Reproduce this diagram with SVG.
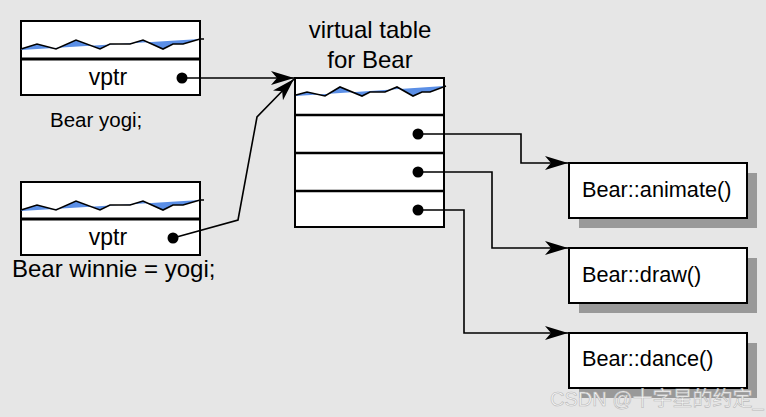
<svg xmlns="http://www.w3.org/2000/svg" width="766" height="417" viewBox="0 0 766 417">
<defs>
<marker id="arr" markerUnits="userSpaceOnUse" markerWidth="24" markerHeight="15" refX="23" refY="7" orient="auto">
<path d="M0,0 L23,7 L0,14 L6,7 Z" fill="#000"/>
</marker>
</defs>
<style>
.box{fill:#fff;stroke:#000;stroke-width:2}
.div{stroke:#000;stroke-width:3}
.div2{stroke:#000;stroke-width:2.5}
.wave{fill:#5b8fe6;stroke:none}
.wl{fill:none;stroke:#000;stroke-width:1.6}
.t{font-family:"Liberation Sans",Arial,sans-serif;fill:#000}
.dot{fill:#000}
.sh{fill:#999}
.con{fill:none;stroke:#000;stroke-width:1.6}
</style>
<rect x="0" y="0" width="766" height="417" fill="#e6e6e6"/>

<g id="yogi">
<rect class="box" x="21" y="21" width="179" height="74"/>
<polygon class="wave" points="21,49 37,44 56,49 76,40 100,49 110,44 130,44 143,40 163,49 173,44 183,44 200,39 200,39 21,50"/>
<polyline class="wl" points="21,49 37,44 56,49 76,40 100,49 110,44 130,44 143,40 163,49 173,44 183,44 200,39 204,39"/>
<line class="div" x1="21" y1="59" x2="200" y2="59"/>
<text class="t" x="108" y="85" font-size="23" text-anchor="middle">vptr</text>
<circle class="dot" cx="182" cy="78" r="5.5"/>
<text class="t" x="50" y="127" font-size="20.5">Bear yogi;</text>
</g>

<g id="winnie">
<rect class="box" x="21" y="182" width="179" height="73"/>
<polygon class="wave" points="21,210 37,205 56,210 76,201 100,210 110,205 130,205 143,201 163,210 173,205 183,205 200,200 21,211"/>
<polyline class="wl" points="21,210 37,205 56,210 76,201 100,210 110,205 130,205 143,201 163,210 173,205 183,205 200,200 204,200"/>
<line class="div" x1="21" y1="219" x2="200" y2="219"/>
<text class="t" x="108" y="245" font-size="23" text-anchor="middle">vptr</text>
<circle class="dot" cx="173" cy="238" r="5.5"/>
<text class="t" x="12" y="277" font-size="24">Bear winnie = yogi;</text>
</g>

<g id="vtable">
<text class="t" x="370" y="38" font-size="24" text-anchor="middle">virtual table</text>
<text class="t" x="370" y="68" font-size="24" text-anchor="middle">for Bear</text>
<rect class="box" x="295" y="78" width="149" height="149"/>
<polygon class="wave" points="296,95 307,92 325,96 340,87 362,96 370,92 385,92 397,87 413,96 422,92 430,92 444,86 296,96"/>
<polyline class="wl" points="296,95 307,92 325,96 340,87 362,96 370,92 385,92 397,87 413,96 422,92 430,92 446,86"/>
<line class="div2" x1="295" y1="115" x2="444" y2="115"/>
<line class="div2" x1="295" y1="153" x2="444" y2="153"/>
<line class="div2" x1="295" y1="191" x2="444" y2="191"/>
<circle class="dot" cx="418" cy="134" r="5.5"/>
<circle class="dot" cx="418" cy="172" r="5.5"/>
<circle class="dot" cx="418" cy="210" r="5.5"/>
</g>

<g id="animate">
<rect class="sh" x="579" y="173" width="178" height="55"/>
<rect class="box" x="569" y="163" width="178" height="55"/>
<text class="t" x="582" y="197" font-size="21.7">Bear::animate()</text>
</g>

<g id="draw">
<rect class="sh" x="579" y="258" width="178" height="55"/>
<rect class="box" x="569" y="248" width="178" height="55"/>
<text class="t" x="582" y="282" font-size="21.7">Bear::draw()</text>
</g>

<g id="dance">
<rect class="sh" x="579" y="343" width="178" height="55"/>
<rect class="box" x="569" y="333" width="178" height="55"/>
<text class="t" x="582" y="366" font-size="21.7">Bear::dance()</text>
</g>

<g id="connectors">
<polyline class="con" points="182,78 294,78" marker-end="url(#arr)"/>
<polyline class="con" points="173,238 238,220 257,117 294,79" marker-end="url(#arr)"/>
<polyline class="con" points="418,134 521,134 521,163 568,163" marker-end="url(#arr)"/>
<polyline class="con" points="418,172 492,172 492,248 568,248" marker-end="url(#arr)"/>
<polyline class="con" points="418,210 464,210 464,333 568,333" marker-end="url(#arr)"/>
</g>

<text x="550" y="406" font-size="20" fill="#f6f6f6" stroke="#b8b8b8" stroke-width="0.6" font-family="'Liberation Sans','Noto Sans CJK SC',sans-serif">CSDN @十字星的约定_</text>
</svg>
